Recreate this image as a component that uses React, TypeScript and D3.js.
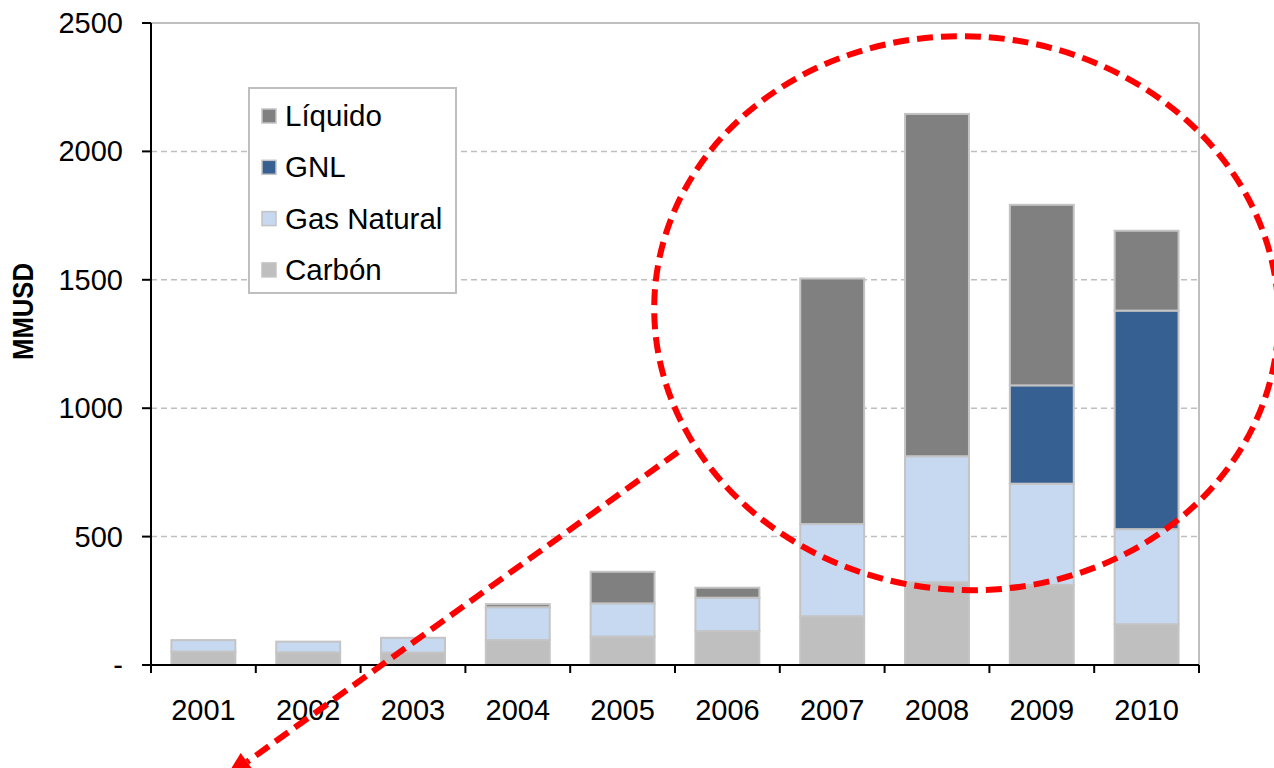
import React from "react";
import * as d3 from "d3";

// Annual values in MMUSD, stacked bottom to top
const years = ["2001", "2002", "2003", "2004", "2005", "2006", "2007", "2008", "2009", "2010"];
const carbon = [52, 49, 48, 97, 111, 132, 190, 322, 312, 159];
const gasNatural = [45, 42, 58, 128, 129, 130, 359, 491, 394, 370];
const gnl = [0, 0, 0, 0, 0, 0, 0, 0, 383, 851];
const liquido = [0, 0, 0, 12, 123, 39, 956, 1333, 703, 311];

const seriesKeys = ["Carbón", "Gas Natural", "GNL", "Líquido"];
const seriesColors = ["#bfbfbf", "#c6d9f1", "#366092", "#808080"];
const legendOrder = ["Líquido", "GNL", "Gas Natural", "Carbón"];
const yTicks = [0, 500, 1000, 1500, 2000, 2500];
const yTickLabels = ["-", "500", "1000", "1500", "2000", "2500"];

const W = 1274;
const H = 768;
const left = 151;
const right = 1199;
const top = 23;
const bottom = 665;
const FONT = "'Liberation Sans', Arial, sans-serif";

export default function App() {
  const rows = years.map((yr, i) => ({
    year: yr,
    "Carbón": carbon[i],
    "Gas Natural": gasNatural[i],
    GNL: gnl[i],
    "Líquido": liquido[i],
  }));
  const stacked = d3.stack<any>().keys(seriesKeys)(rows);

  const x = d3.scaleBand().domain(years).range([left, right]).paddingInner(0.39).paddingOuter(0.195);
  const y = d3.scaleLinear().domain([0, 2500]).range([bottom, top]);
  const step = x.step();
  const color = d3.scaleOrdinal<string, string>().domain(seriesKeys).range(seriesColors);

  // red callout: dashed ellipse around the later years and an arrow pointing away
  const cx = (x("2008") as number) + x.bandwidth() / 2 + 0.28 * step;
  const cy = y(1370);
  const rx = 2.98 * step;
  const ry = y(0) - y(1078);
  const arrowStart: [number, number] = [678, 452];
  const arrowTip: [number, number] = [226, 777];
  const ang = Math.atan2(arrowTip[1] - arrowStart[1], arrowTip[0] - arrowStart[0]);
  const headLen = 26;
  const headHalf = 11;
  const baseX = arrowTip[0] - headLen * Math.cos(ang);
  const baseY = arrowTip[1] - headLen * Math.sin(ang);
  const px = -Math.sin(ang);
  const py = Math.cos(ang);
  const head = [
    [arrowTip[0], arrowTip[1]],
    [baseX + headHalf * px, baseY + headHalf * py],
    [baseX - headHalf * px, baseY - headHalf * py],
  ]
    .map((p) => p.join(","))
    .join(" ");

  const boundaries = d3.range(years.length + 1).map((i) => left + i * ((right - left) / years.length));

  return (
    <svg
      width={W}
      height={H}
      style={{ position: "absolute", left: 0, top: 0, background: "#fff" }}
      fontFamily={FONT}
    >
      {/* gridlines */}
      {yTicks
        .filter((t) => t > 0 && t < 2500)
        .map((t) => (
          <line
            key={t}
            x1={left}
            x2={right}
            y1={y(t)}
            y2={y(t)}
            stroke="#bfbfbf"
            strokeWidth={1.5}
            strokeDasharray="6 4"
          />
        ))}
      {/* plot frame top / right */}
      <line x1={left} x2={right} y1={y(2500)} y2={y(2500)} stroke="#bfbfbf" strokeWidth={2} />
      <line x1={right} x2={right} y1={y(2500)} y2={bottom} stroke="#bfbfbf" strokeWidth={2} />

      {/* stacked bars */}
      {stacked.map((layer) =>
        layer.map((d, i) =>
          d[1] - d[0] > 0 ? (
            <rect
              key={layer.key + years[i]}
              x={x(years[i])}
              y={y(d[1])}
              width={x.bandwidth()}
              height={y(d[0]) - y(d[1])}
              fill={color(layer.key)}
              stroke="#c4c4c4"
              strokeWidth={2}
            />
          ) : null
        )
      )}

      {/* y axis */}
      <line x1={left} x2={left} y1={top} y2={bottom} stroke="#000" strokeWidth={2} />
      {yTicks.map((t, i) => (
        <g key={t}>
          <line x1={left - 9} x2={left} y1={y(t)} y2={y(t)} stroke="#000" strokeWidth={2} />
          <text x={123} y={y(t) + 10} textAnchor="end" fontSize={29} fill="#000">
            {yTickLabels[i]}
          </text>
        </g>
      ))}
      {/* x axis */}
      <line x1={left - 9} x2={right} y1={bottom} y2={bottom} stroke="#000" strokeWidth={2} />
      {boundaries.map((bx, i) => (
        <line key={i} x1={bx} x2={bx} y1={bottom} y2={bottom + 8} stroke="#000" strokeWidth={2} />
      ))}
      {years.map((yr) => (
        <text
          key={yr}
          x={(x(yr) as number) + x.bandwidth() / 2}
          y={720}
          textAnchor="middle"
          fontSize={29}
          fill="#000"
        >
          {yr}
        </text>
      ))}

      {/* y axis title */}
      <text
        transform={`translate(33, 311.5) rotate(-90)`}
        textAnchor="middle"
        fontSize={30}
        fontWeight="bold"
        textLength={97}
        lengthAdjust="spacingAndGlyphs"
        fill="#000"
      >
        MMUSD
      </text>

      {/* legend */}
      <rect x={249} y={88} width={207} height={205} fill="#fff" stroke="#bfbfbf" strokeWidth={2} />
      {legendOrder.map((k, i) => {
        const cyRow = 116 + i * 51.3;
        return (
          <g key={k}>
            <rect x={262} y={cyRow - 7} width={14} height={14} fill={color(k)} stroke="#c4c4c4" strokeWidth={1.5} />
            <text x={285} y={cyRow + 10} fontSize={29.5} fill="#000">
              {k}
            </text>
          </g>
        );
      })}

      {/* callout */}
      <ellipse
        cx={cx}
        cy={cy}
        rx={rx}
        ry={ry}
        transform={`rotate(4, ${cx}, ${cy})`}
        fill="none"
        stroke="#ff0000"
        strokeWidth={6}
        strokeDasharray="16 8"
      />
      <line
        x1={arrowStart[0]}
        y1={arrowStart[1]}
        x2={baseX}
        y2={baseY}
        stroke="#ff0000"
        strokeWidth={6}
        strokeDasharray="16 8"
      />
      <polygon points={head} fill="#ff0000" />
    </svg>
  );
}
